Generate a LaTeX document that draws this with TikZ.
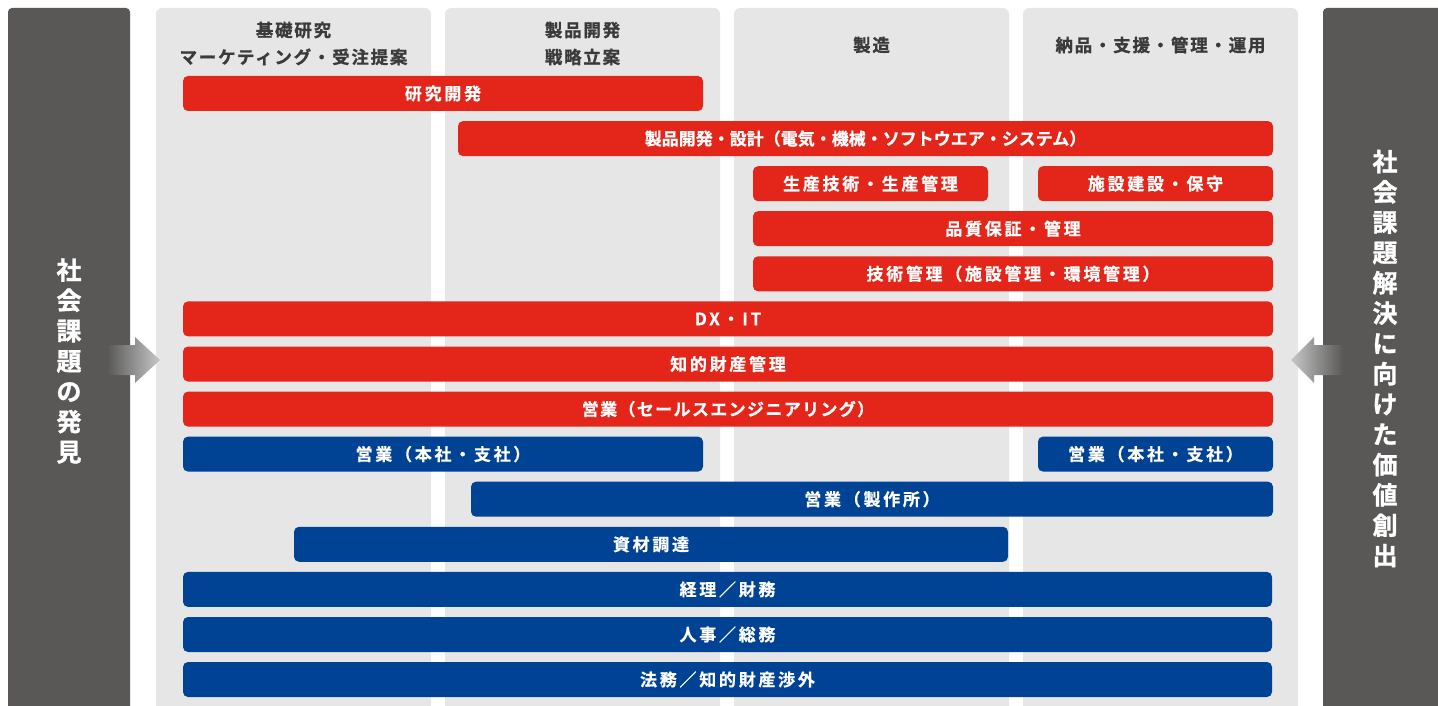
\documentclass[tikz,border=0pt]{standalone}
\usepackage{fontspec}
\newfontfamily\jp{Noto Sans CJK JP}[BoldFont=* Bold,BoldFeatures={FakeBold=0.6}]
\newfontfamily\jpsp{Noto Sans CJK JP}[BoldFont=* Bold,BoldFeatures={FakeBold=0.6},LetterSpace=16]
\newfontfamily\jpmid{Noto Sans CJK JP}[BoldFont=* Bold,BoldFeatures={FakeBold=0.6},LetterSpace=8]
\newfontfamily\jphd{Noto Sans CJK JP}[BoldFont=* Bold,BoldFeatures={FakeBold=1},LetterSpace=10]
\newfontfamily\jpv{Noto Sans CJK JP}[BoldFont=* Bold,BoldFeatures={FakeBold=1.2}]
\definecolor{barred}{HTML}{E4261A}
\definecolor{barblue}{HTML}{004294}
\definecolor{colgray}{HTML}{E6E6E6}
\definecolor{darkbar}{HTML}{595857}
\definecolor{headtxt}{HTML}{3A3A3A}
\begin{document}
\begin{tikzpicture}[x=1pt,y=-1pt,
  barbase/.style={rounded corners=5pt,inner sep=0pt,minimum height=35pt,text=white,font=\jpsp\bfseries\fontsize{17}{20}\selectfont},
  redbar/.style={barbase,fill=barred},
  bluebar/.style={barbase,fill=barblue},
  tight/.style={font=\jp\bfseries\fontsize{17}{20}\selectfont},
  mid/.style={font=\jpmid\bfseries\fontsize{17}{20}\selectfont},
  colbox/.style={fill=colgray,rounded corners=6pt},
  sidebar/.style={fill=darkbar,rounded corners=4pt},
  header/.style={text=headtxt,align=center,inner sep=0pt,font=\jphd\bfseries\fontsize{17.5}{27}\selectfont},
  vtext/.style={text=white,align=center,inner sep=0pt,font=\jpv\bfseries\fontsize{25}{30.3}\selectfont}]
\useasboundingbox (0,0) rectangle (1438,706);
\clip (0,0) rectangle (1438,706);
% side bars and columns
\fill[sidebar] (8,8) rectangle (130,730);
\fill[sidebar] (1323,8) rectangle (1460,730);
\fill[colbox] (156,8) rectangle (431,730);
\fill[colbox] (445,8) rectangle (720,730);
\fill[colbox] (734,8) rectangle (1009,730);
\fill[colbox] (1023,8) rectangle (1298,730);
% arrows
\shade[left color=darkbar,right color=black!22] (107,345) -- (135,345) -- (135,337) -- (160,360) -- (135,383) -- (135,375) -- (107,375) -- cycle;
\shade[left color=black!22,right color=darkbar] (1343,345) -- (1314,345) -- (1314,337) -- (1291,360) -- (1314,383) -- (1314,375) -- (1343,375) -- cycle;
% headers
\node[header] (h1) at (293.5,43.5) {基礎研究\\マーケティング・受注提案};
\node[header] (h2) at (582.5,43.5) {製品開発\\戦略立案};
\node[header] (h3) at (871.5,45) {製造};
\node[header] (h4) at (1160.5,45) {納品・支援・管理・運用};
% side texts
\node[vtext] (lt) at (69,361) {社\\会\\課\\題\\の\\発\\見};
\node[vtext] (rt) at (1385,358.5) {社\\会\\課\\題\\解\\決\\に\\向\\け\\た\\価\\値\\創\\出};
% red bars
\node[redbar,minimum width=520pt] (rd) at (443,93.5) {研究開発};
\node[redbar,tight,minimum width=815pt] (pd) at (865.5,138.6) {製品開発・設計（電気・機械・ソフトウエア・システム）};
\node[redbar,minimum width=235pt] (pe) at (870.5,183.7) {生産技術・生産管理};
\node[redbar,minimum width=235pt] (fc) at (1155.5,183.7) {施設建設・保守};
\node[redbar,minimum width=520pt] (qa) at (1013,228.7) {品質保証・管理};
\node[redbar,minimum width=520pt] (tm) at (1013,273.8) {技術管理（施設管理・環境管理）};
\node[redbar,minimum width=1090pt] (dx) at (728,318.9) {DX・IT};
\node[redbar,minimum width=1090pt] (ip) at (728,364.0) {知的財産管理};
\node[redbar,mid,minimum width=1090pt] (se) at (728,409.1) {営業（セールスエンジニアリング）};
% blue bars
\node[bluebar,minimum width=520pt] (sl) at (443,454.1) {営業（本社・支社）};
\node[bluebar,minimum width=235pt] (sr) at (1155.5,454.1) {営業（本社・支社）};
\node[bluebar,minimum width=802pt] (sf) at (872,499.2) {営業（製作所）};
\node[bluebar,minimum width=714pt] (pr) at (651,544.3) {資材調達};
\node[bluebar,minimum width=1089pt] (ac) at (727.5,589.4) {経理／財務};
\node[bluebar,minimum width=1089pt] (hr) at (727.5,634.5) {人事／総務};
\node[bluebar,minimum width=1089pt] (lg) at (727.5,679.5) {法務／知的財産渉外};
\end{tikzpicture}
\end{document}
